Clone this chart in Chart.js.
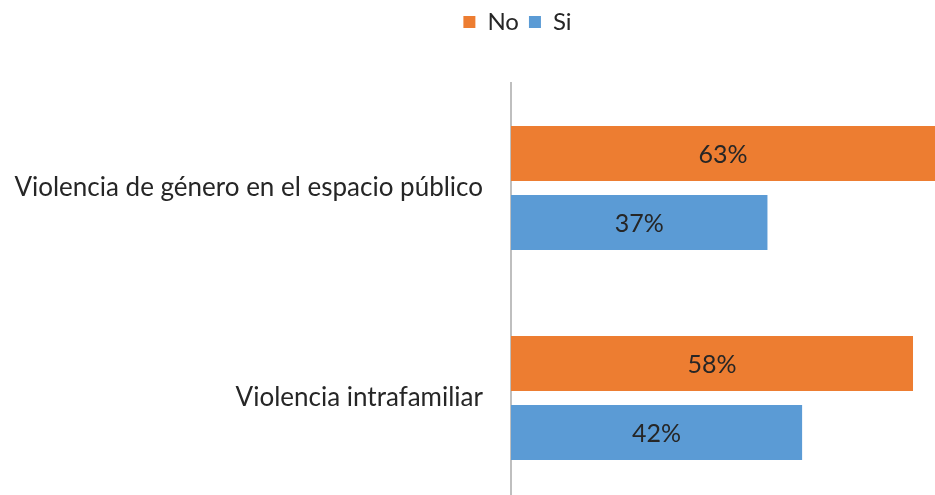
<!DOCTYPE html>
<html lang="es">

<head>
    <meta charset="UTF-8">
    <title>Violencia - No / Si</title>
    <style>
        body {
            margin: 0;
            background: #ffffff;
        }

        /* the original picture is a crop of a wider chart: the canvas runs past the right edge */
        #chart-container {
            position: relative;
            width: 935px;
            height: 495px;
            overflow: hidden;
        }

        #myChart {
            display: block;
        }
    </style>
</head>

<body>
    <div id="chart-container">
        <canvas id="myChart" width="1035" height="503"></canvas>
    </div>

    <script src="https://cdn.jsdelivr.net/npm/chart.js"></script>
    <script>
        const categories = ['Violencia de género en el espacio público', 'Violencia intrafamiliar'];
        const seriesNames = ['No', 'Si'];
        const noValues = [63, 58];
        const siValues = [37, 42];
        const axisMax = 75.6;

        const FONT = 'Lato';
        const TEXT = '#262626';
        const VISIBLE_RIGHT = 935; // width of the visible crop

        // write the % value in the middle of the visible part of each bar
        const barValueLabels = {
            id: 'barValueLabels',
            afterDatasetsDraw(chart) {
                const { ctx } = chart;
                ctx.save();
                ctx.font = `25px ${FONT}`;
                ctx.fillStyle = TEXT;
                ctx.textAlign = 'center';
                ctx.textBaseline = 'middle';
                chart.data.datasets.forEach((ds, di) => {
                    chart.getDatasetMeta(di).data.forEach((bar, i) => {
                        const right = Math.min(bar.x, VISIBLE_RIGHT);
                        ctx.fillText(ds.data[i] + '%', (bar.base + right) / 2, bar.y + 1);
                    });
                });
                ctx.restore();
            }
        };

        const ctx = document.getElementById('myChart').getContext('2d');
        const chart = new Chart(ctx, {
            type: 'bar',
            data: {
                labels: categories,
                datasets: [{
                    label: seriesNames[0],
                    data: noValues,
                    backgroundColor: '#ED7D31',
                    categoryPercentage: 0.657,
                    barPercentage: 0.797
                }, {
                    label: seriesNames[1],
                    data: siValues,
                    backgroundColor: '#5B9BD5',
                    categoryPercentage: 0.657,
                    barPercentage: 0.797
                }]
            },
            options: {
                indexAxis: 'y',
                responsive: false,
                animation: false,
                layout: {
                    padding: 0
                },
                plugins: {
                    legend: {
                        display: true,
                        position: 'top',
                        weight: 3000,
                        labels: {
                            boxWidth: 12,
                            boxHeight: 12,
                            padding: 10,
                            color: TEXT,
                            font: { family: FONT, size: 24 }
                        }
                    },
                    // empty subtitle, only used as a spacer under the legend
                    subtitle: {
                        display: true,
                        text: '',
                        font: { size: 10, lineHeight: 1 },
                        padding: { top: 29, bottom: 0 }
                    },
                    tooltip: { enabled: false }
                },
                scales: {
                    x: {
                        display: false,
                        min: 0,
                        max: axisMax
                    },
                    y: {
                        grid: { display: false, drawTicks: false },
                        border: { display: true, color: '#BFBFBF', width: 2 },
                        ticks: {
                            padding: 28,
                            color: TEXT,
                            font: { family: FONT, size: 26 }
                        },
                        afterFit(scale) {
                            scale.width = 511;
                            scale.paddingTop = 0;
                            scale.paddingBottom = 0;
                        }
                    }
                }
            },
            plugins: [barValueLabels]
        });
    </script>
</body>

</html>
